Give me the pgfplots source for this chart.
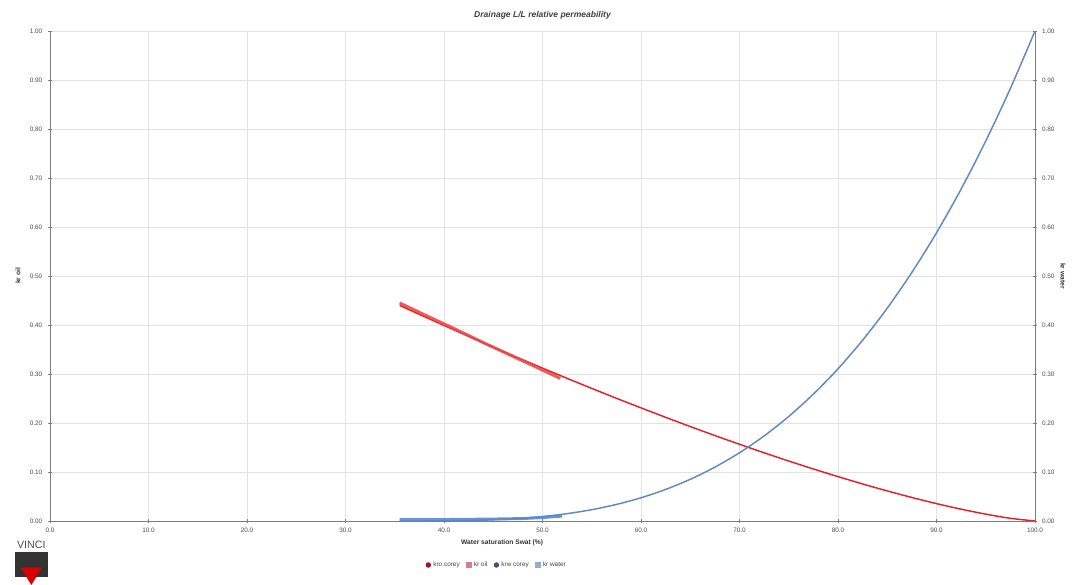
\documentclass[border=0pt]{standalone}
\usepackage{pgfplots}
\pgfplotsset{compat=1.18}
\usepackage{pgfplotstable}
\usepackage{fontspec}
\setmainfont{Liberation Sans}

\definecolor{krored}{RGB}{228,32,40}
\definecolor{oilred}{RGB}{238,70,72}
\definecolor{krwblue}{RGB}{96,136,198}
\definecolor{watblue}{RGB}{88,136,206}
\definecolor{gridgray}{RGB}{226,226,226}
\definecolor{axgray}{RGB}{125,125,125}
\definecolor{mkrocorey}{RGB}{150,22,42}
\definecolor{mkroil}{RGB}{222,120,140}
\definecolor{mkrwcorey}{RGB}{70,80,112}
\definecolor{mkrwater}{RGB}{150,172,212}

% corey curves
\pgfplotstableread{
sw kr
35.5 0.4400
37.5 0.4217
40.0 0.3991
42.5 0.3768
45.0 0.3549
47.5 0.3333
50.0 0.3120
52.5 0.2911
55.0 0.2706
57.5 0.2505
60.0 0.2309
62.5 0.2116
65.0 0.1928
67.5 0.1744
70.0 0.1566
72.5 0.1392
75.0 0.1224
77.5 0.1062
80.0 0.0906
82.5 0.0756
85.0 0.0614
87.5 0.0480
90.0 0.0355
92.5 0.0241
95.0 0.0140
97.5 0.0055
100.0 0.0000
}\krocorey

\pgfplotstableread{
sw kr
35.5 0.0000
37.5 0.0000
40.0 0.0002
42.5 0.0009
45.0 0.0024
47.5 0.0050
50.0 0.0091
52.5 0.0150
55.0 0.0231
57.5 0.0338
60.0 0.0474
62.5 0.0644
65.0 0.0851
67.5 0.1099
70.0 0.1393
72.5 0.1736
75.0 0.2134
77.5 0.2590
80.0 0.3106
82.5 0.3690
85.0 0.4344
87.5 0.5074
90.0 0.5882
92.5 0.6775
95.0 0.7756
97.5 0.8828
100.0 1.0000
}\krwcorey

% measured points
\pgfplotstableread{
sw kr
35.5 0.445
38.0 0.421
41.0 0.393
44.0 0.364
47.0 0.336
50.0 0.308
51.8 0.291
}\kroil

\pgfplotstableread{
sw kr
35.5 0.003
40.0 0.003
45.0 0.004
48.0 0.005
50.0 0.007
52.0 0.010
}\krwater

\begin{document}
\begin{tikzpicture}
\pgfplotsset{
  common/.style={
    scale only axis, width=738.75pt, height=367.5pt,
    xmin=0, xmax=100, ymin=0, ymax=1,
    xtick={0,10,20,30,40,50,60,70,80,90,100},
    ytick={0,0.1,0.2,0.3,0.4,0.5,0.6,0.7,0.8,0.9,1},
    axis x line*=bottom,
    axis line style={draw=axgray, line width=0.6pt},
    tick style={draw=axgray, line width=0.5pt},
    tick align=center, major tick length=2.5pt,
    ticklabel style={font=\fontsize{4.8}{5}\selectfont, text=black!70},
    /pgf/number format/assume math mode=true,
    xticklabel={\pgfmathprintnumber[fixed,fixed zerofill,precision=1]{\tick}},
    yticklabel={\pgfmathprintnumber[fixed,fixed zerofill,precision=2]{\tick}},
    label style={font=\fontsize{5}{6}\selectfont\bfseries, text=black!80},
  }
}
\begin{axis}[common, name=main,
  axis y line*=left,
  grid=major, grid style={draw=gridgray, line width=0.5pt},
  clip=false,
  xlabel={Water saturation Swat (\%)},
  xlabel style={at={(axis description cs:0.459,-0.0449)}, anchor=center},
  ylabel={kr oil},
  ylabel style={at={(axis description cs:-0.0325,0.5)}, anchor=center},
  yticklabel style={xshift=-1pt},
  xticklabel style={yshift=-0.5pt},
]
\addplot[draw=krored, line width=1.1pt, no marks, smooth] table[x=sw, y=kr] {\krocorey};
\addplot[draw=oilred, line width=2.2pt, no marks, opacity=0.9] table[x=sw, y=kr] {\kroil};

% title
\node[font=\fontsize{6.4}{7}\selectfont\bfseries\itshape, text=black!75, inner sep=0pt]
  at ([yshift=12pt]rel axis cs:0.5,1) {Drainage L/L relative permeability};

% logo
\node[font=\fontsize{8}{8}\rmfamily, text=black!70, inner sep=0pt]
  at ([xshift=-14pt, yshift=-18pt]rel axis cs:0,0) {VINCI};
\fill[black!80] ([xshift=-26pt, yshift=-23pt]rel axis cs:0,0) rectangle ([xshift=-1.5pt, yshift=-42pt]rel axis cs:0,0);
\fill[red!85!black] ([xshift=-22pt, yshift=-35pt]rel axis cs:0,0) -- ([xshift=-6pt, yshift=-35pt]rel axis cs:0,0) -- ([xshift=-14pt, yshift=-48pt]rel axis cs:0,0) -- cycle;
\end{axis}

\begin{axis}[common,
  axis y line*=right,
  xticklabels={}, 
  ylabel={kr water},
  ylabel style={at={(axis description cs:1.0284,0.5)}, anchor=center, rotate=180},
  yticklabel style={xshift=0.5pt},
  legend style={at={(axis description cs:0.454,-0.0898)}, anchor=center,
    legend columns=4, draw=none, fill=none,
    font=\fontsize{4.8}{5}\selectfont, text=black!75,
    /tikz/every even column/.append style={column sep=3pt}},
  legend cell align=left,
]
\addlegendimage{only marks, mark=*, mark size=1.8pt, color=mkrocorey}
\addlegendentry{kro corey}
\addlegendimage{only marks, mark=square*, mark size=1.8pt, color=mkroil}
\addlegendentry{kr oil}
\addplot[draw=krwblue, line width=1.1pt, no marks, smooth, forget plot] table[x=sw, y=kr] {\krwcorey};
\addlegendimage{only marks, mark=*, mark size=1.8pt, color=mkrwcorey}
\addlegendentry{krw corey}
\addplot[draw=watblue, line width=2.2pt, no marks, forget plot, opacity=0.9] table[x=sw, y=kr] {\krwater};
\addlegendimage{only marks, mark=square*, mark size=1.8pt, color=mkrwater}
\addlegendentry{kr water}
\end{axis}

\pgfresetboundingbox
\path[use as bounding box] ([shift={(-37.5pt,-48pt)}]main.south west) rectangle ([shift={(30pt,23.25pt)}]main.north east);
\end{tikzpicture}
\end{document}
